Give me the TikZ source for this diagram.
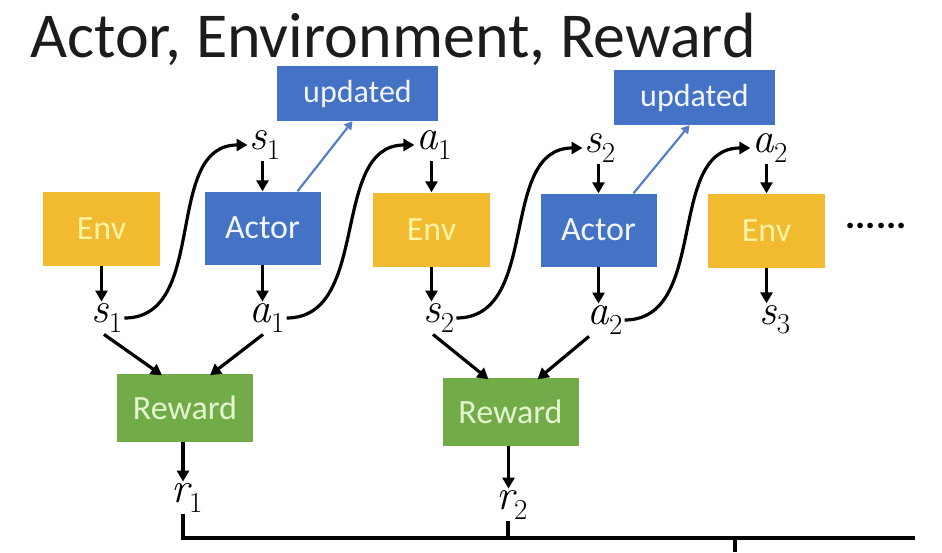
\documentclass[tikz,border=0pt]{standalone}
\usepackage{fontspec}
\setmainfont{Carlito}
\newfontfamily\lblfont{Latin Modern Roman}
\newcommand\lab[2]{{\lblfont\itshape #1}\raisebox{-0.22em}{\lblfont\fontsize{29}{30}\selectfont #2}}
\usetikzlibrary{arrows.meta}
\definecolor{envc}{HTML}{F2BA2E}
\definecolor{envt}{HTML}{FFF3A6}
\definecolor{actc}{HTML}{4472C4}
\definecolor{actt}{HTML}{F2F5FF}
\definecolor{rewc}{HTML}{72AC48}
\definecolor{rewt}{HTML}{E4F5CF}
\definecolor{updl}{HTML}{5580C8}
\definecolor{titlec}{HTML}{1C1C1C}
\tikzset{
  box/.style={inner sep=0pt, font=\fontsize{34}{36}\selectfont},
  envbox/.style={box, fill=envc, text=envt, minimum width=117pt, minimum height=74pt},
  actbox/.style={box, fill=actc, text=actt, minimum width=116pt, minimum height=73pt},
  updbox/.style={box, fill=actc, text=actt, minimum width=161pt, minimum height=55pt, font=\fontsize{32}{34}\selectfont},
  rewbox/.style={box, fill=rewc, text=rewt, minimum width=136pt, minimum height=68pt},
  lbl/.style={inner sep=2pt, font=\fontsize{43}{45}\selectfont},
  arr/.style={line width=3.2pt, -{Triangle[length=11pt,width=12pt]}},
  barr/.style={line width=2.2pt, draw=updl, -{Triangle[length=8pt,width=9pt]}},
  bar/.style={line width=3.4pt}
}
\begin{document}
\begin{tikzpicture}[x=1pt,y=-1pt]
\useasboundingbox (0,0) rectangle (942,552);
\node[anchor=base west, inner sep=0pt, text=titlec, font=\fontsize{64}{68}\selectfont] (title) at (30,57) {Actor, Environment, Reward};

% boxes
\node[envbox] (env1) at (101.5,228.5) {Env};
\node[actbox] (act1) at (262.5,228) {Actor};
\node[updbox] (upd1) at (357.5,93.5) {updated};
\node[envbox] (env2) at (431.5,229.5) {Env};
\node[actbox] (act2) at (598.5,230) {Actor};
\node[updbox] (upd2) at (694.5,97.5) {updated};
\node[envbox] (env3) at (766.5,230.5) {Env};
\node[rewbox] (rew1) at (185,407.5) {Reward};
\node[rewbox] (rew2) at (510.5,411.5) {Reward};
\node[inner sep=0pt, font=\fontsize{38}{40}\selectfont\bfseries] (dots) at (876,226) {......};

% labels
\node[lbl] (s1t) at (265,145) {\lab{s}{1}};
\node[lbl] (a1t) at (434,145) {\lab{a}{1}};
\node[lbl] (s1b) at (107,318) {\lab{s}{1}};
\node[lbl] (a1b) at (267,318) {\lab{a}{1}};
\node[lbl] (s2b) at (439,318) {\lab{s}{2}};
\node[lbl] (s2t) at (600,148) {\lab{s}{2}};
\node[lbl] (a2t) at (770,148) {\lab{a}{2}};
\node[lbl] (a2b) at (605,320) {\lab{a}{2}};
\node[lbl] (s3) at (775,320) {\lab{s}{3}};
\node[lbl] (r1) at (187,498) {\lab{r}{1}};
\node[lbl] (r2) at (512,505) {\lab{r}{2}};

% short vertical arrows
\draw[arr] (act1.north |- s1t.south) -- (act1.north);
\draw[arr] (env1.south) -- (env1.south |- s1b.north);
\draw[arr] (act1.south) -- (act1.south |- a1b.north);
\draw[arr] (env2.north |- a1t.south) -- (env2.north);
\draw[arr] (env2.south) -- (env2.south |- s2b.north);
\draw[arr] (act2.north |- s2t.south) -- (act2.north);
\draw[arr] (act2.south) -- (act2.south |- a2b.north);
\draw[arr] (env3.north |- a2t.south) -- (env3.north);
\draw[arr] (env3.south) -- (env3.south |- s3.north);

% S-curves
\draw[arr] (s1b.east) .. controls +(85,0) and +(-85,0) .. (s1t.west);
\draw[arr] (a1b.east) .. controls +(85,0) and +(-85,0) .. (a1t.west);
\draw[arr] (s2b.east) .. controls +(85,0) and +(-85,0) .. (s2t.west);
\draw[arr] (a2b.east) .. controls +(85,0) and +(-85,0) .. (a2t.west);

% updated arrows
\draw[barr] ([xshift=35pt]act1.north) -- ([xshift=-5pt]upd1.south);
\draw[barr] ([xshift=35pt]act2.north) -- ([xshift=-5pt]upd2.south);

% reward inputs
\draw[arr] ([xshift=-3pt]s1b.south) -- ([xshift=-23pt,yshift=-2pt]rew1.north);
\draw[arr] ([xshift=-4pt]a1b.south) -- ([xshift=25pt,yshift=-2pt]rew1.north);
\draw[arr] ([xshift=-6pt]s2b.south) -- ([xshift=-22pt,yshift=-2pt]rew2.north);
\draw[arr] ([xshift=-16pt]a2b.south) -- ([xshift=27pt,yshift=-2pt]rew2.north);

% reward outputs
\draw[arr] ([xshift=-2pt]rew1.south) -- ([xshift=-2pt]rew1.south |- r1.north);
\draw[arr] ([xshift=-2pt]rew2.south) -- ([xshift=-2pt]rew2.south |- r2.north);

% bottom bracket
\coordinate (lend) at (915,538);
\coordinate (tbot) at (735,552);
\draw[bar] ([xshift=-4pt]r1.south) |- (lend);
\draw[bar] ([xshift=-4pt]r2.south) -- ([xshift=-4pt]r2.south |- lend);
\draw[bar] (tbot |- lend) -- (tbot);
\end{tikzpicture}
\end{document}
